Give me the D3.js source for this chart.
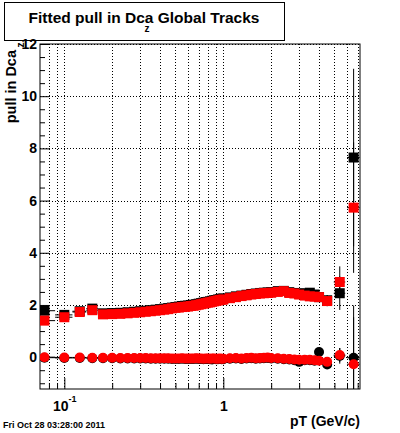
<!DOCTYPE html>
<html>
<head>
<meta charset="utf-8">
<script src="https://cdn.jsdelivr.net/npm/d3@7"></script>
<style>
  body { margin: 0; background: #fff; }
  text { font-family: "Liberation Sans", Arial, sans-serif; font-weight: bold; }
</style>
</head>
<body>
<div id="app"></div>
<script>
const WIDTH = 400, HEIGHT = 433;

// pT bin centres and half widths
const pt = [0.075,0.1,0.125,0.15,0.175,0.2,0.225,0.25,0.275,0.3,0.325,0.35,0.375,0.4,0.425,0.45,0.475,0.5,0.525,0.55,
  0.575,0.6,0.625,0.65,0.675,0.7,0.725,0.75,0.775,0.8,0.825,0.85,0.875,0.9,0.925,0.95,0.975,1.0,
  1.1,1.2,1.3,1.4,1.5,1.6,1.7,1.8,1.9,2.0,
  2.2,2.4,2.6,2.8,3.0,3.25,3.5,3.75,4.0,4.5,5.4,6.6];
const ptErr = [0.0125,0.0125,0.0125,0.0125,0.0125,0.0125,0.0125,0.0125,0.0125,0.0125,0.0125,0.0125,0.0125,0.0125,0.0125,0.0125,0.0125,0.0125,0.0125,0.0125,
  0.0125,0.0125,0.0125,0.0125,0.0125,0.0125,0.0125,0.0125,0.0125,0.0125,0.0125,0.0125,0.0125,0.0125,0.0125,0.0125,0.0125,0.0125,
  0.05,0.05,0.05,0.05,0.05,0.05,0.05,0.05,0.05,0.05,
  0.1,0.1,0.1,0.1,0.1,0.125,0.125,0.125,0.125,0.25,0.45,0.6];

// squares (sigma of the pull)
const blackSquare = [1.78,1.62,1.76,1.86,1.68,1.69,1.70,1.72,1.74,1.76,1.78,1.80,1.82,1.84,1.86,1.88,1.90,1.92,1.94,1.96,
  1.97,1.98,2.00,2.01,2.03,2.05,2.07,2.09,2.11,2.12,2.14,2.16,2.18,2.19,2.21,2.22,2.24,2.25,
  2.29,2.33,2.36,2.39,2.42,2.44,2.46,2.47,2.48,2.49,
  2.53,2.54,2.49,2.46,2.43,2.45,2.47,2.40,2.30,2.18,2.45,7.65];
const blackSquareErr = [0.05,0.05,0.04,0.04,0.03,0.03,0.03,0.03,0.03,0.03,0.03,0.03,0.03,0.03,0.03,0.03,0.03,0.03,0.03,0.03,
  0.03,0.03,0.03,0.03,0.03,0.03,0.03,0.03,0.03,0.03,0.03,0.03,0.03,0.03,0.03,0.03,0.03,0.03,
  0.03,0.03,0.03,0.03,0.04,0.04,0.04,0.05,0.05,0.05,
  0.06,0.06,0.07,0.08,0.09,0.1,0.1,0.12,0.12,0.2,0.64,3.4];
const redSquare = [1.40,1.53,1.73,1.80,1.64,1.65,1.66,1.68,1.70,1.72,1.74,1.76,1.78,1.80,1.82,1.84,1.87,1.89,1.90,1.92,
  1.93,1.94,1.96,1.97,1.99,2.01,2.03,2.05,2.07,2.09,2.10,2.12,2.14,2.16,2.17,2.19,2.20,2.21,
  2.26,2.30,2.34,2.37,2.40,2.42,2.44,2.45,2.46,2.47,
  2.50,2.53,2.46,2.44,2.40,2.36,2.33,2.32,2.30,2.15,2.88,5.73];
const redSquareErr = [0.05,0.05,0.04,0.04,0.03,0.03,0.03,0.03,0.03,0.03,0.03,0.03,0.03,0.03,0.03,0.03,0.03,0.03,0.03,0.03,
  0.03,0.03,0.03,0.03,0.03,0.03,0.03,0.03,0.03,0.03,0.03,0.03,0.03,0.03,0.03,0.03,0.03,0.03,
  0.03,0.03,0.03,0.03,0.04,0.04,0.04,0.05,0.05,0.05,
  0.06,0.06,0.07,0.08,0.09,0.1,0.1,0.12,0.12,0.2,0.6,2.5];

// circles (mean of the pull)
const blackCircle = [-0.02,-0.03,-0.03,-0.04,-0.04,-0.04,-0.05,-0.05,-0.05,-0.05,-0.05,-0.06,-0.06,-0.06,-0.06,-0.06,-0.07,-0.07,-0.07,-0.06,
  -0.07,-0.07,-0.07,-0.07,-0.06,-0.07,-0.07,-0.08,-0.07,-0.07,-0.08,-0.09,-0.07,-0.08,-0.08,-0.07,-0.08,-0.08,
  -0.06,-0.05,-0.07,-0.05,-0.04,-0.06,-0.05,-0.04,-0.03,-0.05,
  -0.06,-0.08,-0.09,-0.12,-0.18,-0.12,-0.12,-0.14,0.20,-0.28,0.05,-0.02];
const blackCircleErr = [0.02,0.02,0.02,0.02,0.02,0.02,0.02,0.02,0.02,0.02,0.02,0.02,0.02,0.02,0.02,0.02,0.02,0.02,0.02,0.02,
  0.02,0.02,0.02,0.02,0.02,0.02,0.02,0.02,0.02,0.02,0.02,0.02,0.02,0.02,0.02,0.02,0.02,0.02,
  0.02,0.02,0.02,0.02,0.02,0.03,0.03,0.03,0.03,0.03,
  0.04,0.04,0.05,0.05,0.06,0.06,0.07,0.08,0.1,0.12,0.3,2.0];
const redCircle = [0.00,-0.01,-0.01,-0.02,-0.02,-0.02,-0.03,-0.03,-0.03,-0.03,-0.03,-0.04,-0.04,-0.04,-0.04,-0.04,-0.05,-0.05,-0.05,-0.04,
  -0.05,-0.05,-0.05,-0.05,-0.04,-0.05,-0.05,-0.06,-0.05,-0.05,-0.06,-0.05,-0.05,-0.06,-0.06,-0.05,-0.06,-0.06,
  -0.04,-0.03,-0.05,-0.03,-0.02,-0.04,-0.03,-0.02,-0.01,-0.03,
  -0.04,-0.06,-0.07,-0.09,-0.10,-0.10,-0.10,-0.12,-0.14,-0.18,0.08,-0.27];
const redCircleErr = [0.02,0.02,0.02,0.02,0.02,0.02,0.02,0.02,0.02,0.02,0.02,0.02,0.02,0.02,0.02,0.02,0.02,0.02,0.02,0.02,
  0.02,0.02,0.02,0.02,0.02,0.02,0.02,0.02,0.02,0.02,0.02,0.02,0.02,0.02,0.02,0.02,0.02,0.02,
  0.02,0.02,0.02,0.02,0.02,0.03,0.03,0.03,0.03,0.03,
  0.04,0.04,0.05,0.05,0.06,0.06,0.07,0.08,0.08,0.1,0.27,1.8];

const yMajor = [0, 2, 4, 6, 8, 10, 12];
const yMinor = [-1, -0.5, 0.5, 1, 1.5, 2.5, 3, 3.5, 4.5, 5, 5.5, 6.5, 7, 7.5, 8.5, 9, 9.5, 10.5, 11, 11.5];
const xMajor = [0.1, 1];
const xMinor = [0.08, 0.09, 0.2, 0.3, 0.4, 0.5, 0.6, 0.7, 0.8, 0.9, 2, 3, 4, 5, 6, 7];

const svg = d3.select('#app')
  .append('svg')
    .attr('width', WIDTH)
    .attr('height', HEIGHT);

const frameL = 40, frameR = 360, frameT = 44, frameB = 389;

const x = d3.scaleLog()
  .domain([0.0703, 7.24])
  .range([frameL, frameR]);
const y = d3.scaleLinear()
  .domain([-1.22, 12])
  .range([frameB, frameT]);

// title box
svg.append('rect')
  .attr('x', 4.5).attr('y', 2.5)
  .attr('width', 280).attr('height', 38)
  .attr('fill', 'white').attr('stroke', 'black');
svg.append('text')
  .attr('x', 144).attr('y', 23)
  .attr('text-anchor', 'middle')
  .attr('font-size', 15.5)
  .text('Fitted pull in Dca Global Tracks');
svg.append('text')
  .attr('x', 147).attr('y', 32)
  .attr('text-anchor', 'middle')
  .attr('font-size', 10)
  .text('z');

// grid
const grid = svg.append('g')
  .attr('stroke', 'black')
  .attr('stroke-dasharray', '1,2');
grid.selectAll('line.gx')
  .data(xMajor.concat(xMinor))
  .enter()
  .append('line')
    .attr('x1', d => Math.round(x(d)) + 0.5)
    .attr('x2', d => Math.round(x(d)) + 0.5)
    .attr('y1', frameT).attr('y2', frameB);
grid.selectAll('line.gy')
  .data(yMajor)
  .enter()
  .append('line')
    .attr('y1', d => Math.round(y(d)) + 0.5)
    .attr('y2', d => Math.round(y(d)) + 0.5)
    .attr('x1', frameL).attr('x2', frameR);

// axes, ticks pointing into the frame
const yAxis = svg.append('g')
  .attr('transform', `translate(${frameL},0)`)
  .call(d3.axisLeft(y).tickValues(yMajor).tickSizeInner(-9).tickSizeOuter(0).tickPadding(3));
svg.append('g')
  .attr('transform', `translate(${frameL},0)`)
  .call(d3.axisLeft(y).tickValues(yMinor).tickSizeInner(-5).tickSizeOuter(0).tickFormat(''));
yAxis.selectAll('text')
  .attr('font-size', 14)
  .attr('font-family', '"Liberation Sans", Arial, sans-serif')
  .attr('fill', 'black');

const xAxis = svg.append('g')
  .attr('transform', `translate(0,${frameB})`)
  .call(d3.axisBottom(x).tickValues(xMajor).tickSizeInner(-11).tickSizeOuter(0).tickFormat(''));
svg.append('g')
  .attr('transform', `translate(0,${frameB})`)
  .call(d3.axisBottom(x).tickValues(xMinor).tickSizeInner(-6).tickSizeOuter(0).tickFormat(''));
svg.selectAll('.domain').remove();

const xl = xAxis.selectAll('.tick').append('text')
  .attr('y', 22)
  .attr('fill', 'black')
  .attr('font-size', 14)
  .attr('text-anchor', 'middle');
xl.filter(d => d === 0.1).attr('x', 0).text('10')
  .append('tspan').attr('font-size', 9).attr('dy', -9).text('-1');
xl.filter(d => d === 1).text('1');

// frame
svg.append('rect')
  .attr('x', frameL).attr('y', frameT)
  .attr('width', frameR - frameL).attr('height', frameB - frameT)
  .attr('fill', 'none').attr('stroke', 'black');

// axis titles
svg.append('text')
  .attr('transform', 'translate(16,50) rotate(-90)')
  .attr('text-anchor', 'end')
  .attr('font-size', 14.5)
  .text('pull in Dca');
svg.append('text')
  .attr('transform', 'translate(24,45) rotate(-90)')
  .attr('text-anchor', 'middle')
  .attr('font-size', 10)
  .text('z');
svg.append('text')
  .attr('x', 360).attr('y', 426)
  .attr('text-anchor', 'end')
  .attr('font-size', 14)
  .text('pT (GeV/c)');
svg.append('text')
  .attr('x', 3).attr('y', 428)
  .attr('font-size', 9)
  .text('Fri Oct 28 03:28:00 2011');

// data
svg.append('clipPath').attr('id', 'frame')
  .append('rect')
    .attr('x', frameL).attr('y', frameT)
    .attr('width', frameR - frameL).attr('height', frameB - frameT);
const plot = svg.append('g').attr('clip-path', 'url(#frame)');

const series = [
  { vals: blackSquare, errs: blackSquareErr, color: 'black', shape: 'square' },
  { vals: redSquare, errs: redSquareErr, color: 'red', shape: 'square' },
  { vals: blackCircle, errs: blackCircleErr, color: 'black', shape: 'circle' },
  { vals: redCircle, errs: redCircleErr, color: 'red', shape: 'circle' }
];

series.forEach(s => {
  const pts = pt.map((p, i) => ({ p, xe: ptErr[i], v: s.vals[i], e: s.errs[i] }));
  const g = plot.append('g');

  g.selectAll('line.xe')
    .data(pts)
    .enter()
    .append('line')
      .attr('x1', d => x(d.p - d.xe))
      .attr('x2', d => x(d.p + d.xe))
      .attr('y1', d => y(d.v))
      .attr('y2', d => y(d.v))
      .attr('stroke', 'black');
  g.selectAll('line.ye')
    .data(pts)
    .enter()
    .append('line')
      .attr('x1', d => x(d.p))
      .attr('x2', d => x(d.p))
      .attr('y1', d => y(d.v - d.e))
      .attr('y2', d => y(d.v + d.e))
      .attr('stroke', 'black');

  if (s.shape === 'square') {
    g.selectAll('rect')
      .data(pts)
      .enter()
      .append('rect')
        .attr('x', d => x(d.p) - 5)
        .attr('y', d => y(d.v) - 5)
        .attr('width', 10)
        .attr('height', 10)
        .attr('fill', s.color);
  } else {
    g.selectAll('circle')
      .data(pts)
      .enter()
      .append('circle')
        .attr('cx', d => x(d.p))
        .attr('cy', d => y(d.v))
        .attr('r', 5)
        .attr('fill', s.color);
  }
});
</script>
</body>
</html>
